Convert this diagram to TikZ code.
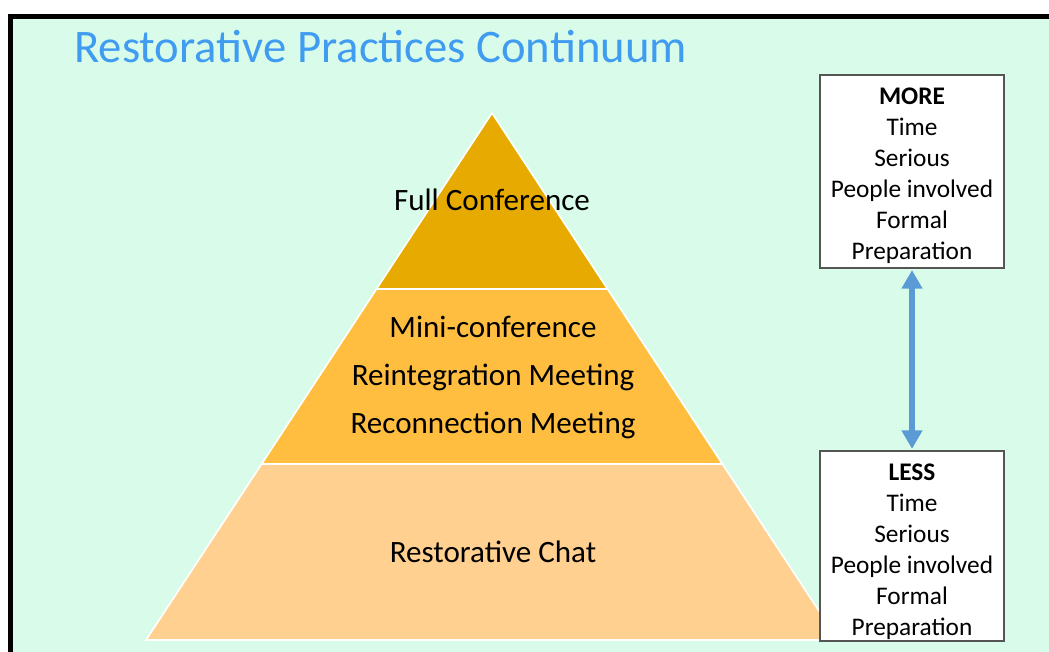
\documentclass[tikz,border=0pt]{standalone}
\usepackage{fontspec}
\setmainfont{Carlito}
\usetikzlibrary{arrows.meta}

\definecolor{mintbg}{RGB}{217,252,234}
\definecolor{titleblue}{RGB}{64,156,240}
\definecolor{layertop}{RGB}{230,170,0}
\definecolor{layermid}{RGB}{255,190,64}
\definecolor{layerlow}{RGB}{255,208,143}
\definecolor{arrowblue}{RGB}{91,155,213}
\definecolor{boxedge}{RGB}{85,85,85}

\tikzset{
  layer/.style={draw=white,line width=1.2pt},
  lvltext/.style={inner sep=0.75pt,align=center,font=\fontsize{23.3}{36}\selectfont},
  scalebox/.style={draw=boxedge,line width=1.1pt,fill=white,inner sep=0pt,minimum width=138pt},
  boxtext/.style={inner sep=0pt,align=center,font=\fontsize{19}{23.25}\selectfont},
}

\begin{document}
\begin{tikzpicture}[x=0.75pt,y=0.75pt,yscale=-1,xscale=1]
\useasboundingbox (0,0) rectangle (1049,652);

%Background and frame
\fill[white] (0,0) rectangle (1049,652);
\fill[mintbg] (13,19) rectangle (1049,652);
\draw[line width=3.75pt] (10.5,652) -- (10.5,16.5) -- (1049,16.5);

% Title
\node (title) [anchor=base west,inner sep=0pt,text=titleblue,font=\fontsize{35}{42}\selectfont] at (74,63) {Restorative Practices Continuum};

%Pyramid layers
\filldraw[layer,fill=layerlow] (261.6,464) -- (722.4,464) -- (838,640) -- (146,640) -- cycle;
\filldraw[layer,fill=layermid] (376.5,289) -- (607.5,289) -- (722.4,464) -- (261.6,464) -- cycle;
\filldraw[layer,fill=layertop] (492,113) -- (607.5,289) -- (376.5,289) -- cycle;

% Text Node
\node (full) [lvltext] at (492,200) {Full Conference};
% Text Node
\node (mini) [lvltext] at (493,377) {Mini-conference\\Reintegration Meeting\\Reconnection Meeting};
% Text Node
\node (chat) [lvltext] at (493,552) {Restorative Chat};

%Side boxes
\node (more) [scalebox,minimum height=144.75pt] at (912,171.5) {};
\node (less) [scalebox,minimum height=142.5pt] at (912,546) {};
% Text Node
\node (moretext) [boxtext] at ([yshift=3pt]more.center) {\textbf{MORE}\\Time\\Serious\\People involved\\Formal\\Preparation};
% Text Node
\node (lesstext) [boxtext] at ([yshift=4.5pt]less.center) {\textbf{LESS}\\Time\\Serious\\People involved\\Formal\\Preparation};

%Double arrow between the boxes
\draw[arrowblue,line width=4pt,{Triangle[length=14pt,width=15pt]}-{Triangle[length=14pt,width=15pt]},shorten <=1pt,shorten >=1pt] (more) -- (less);

\end{tikzpicture}
\end{document}
